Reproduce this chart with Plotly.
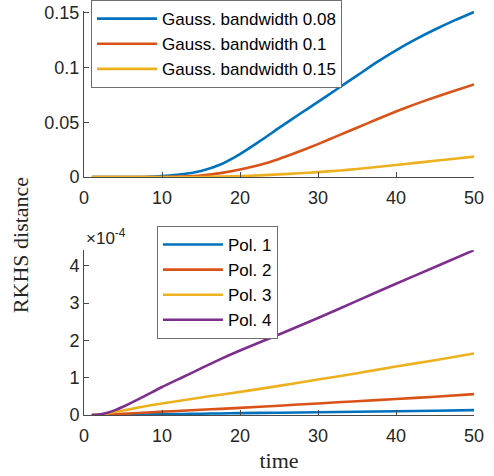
import plotly.graph_objects as go

# ---- data ----
t_gauss = [1, 5, 7.5, 10, 12.5, 15, 17.5, 20, 22.5, 25, 27.5, 30, 32.5, 35, 37.5, 40, 42.5, 45, 47.5, 50]
gauss_008 = [0, 0, 0.0001, 0.0008, 0.0025, 0.0056, 0.0115, 0.021, 0.0325, 0.0448, 0.0568, 0.0685, 0.0805, 0.0925, 0.1045, 0.1155, 0.1255, 0.1345, 0.1428, 0.1505]
gauss_010 = [0, 0, 0, 0.0001, 0.0005, 0.0013, 0.0036, 0.0069, 0.011, 0.0165, 0.023, 0.030, 0.0375, 0.045, 0.0525, 0.0598, 0.0665, 0.0728, 0.0787, 0.0844]
gauss_015 = [0, 0, 0, 0, 0, 0.0001, 0.0004, 0.0008, 0.0015, 0.0024, 0.0034, 0.0045, 0.0058, 0.0073, 0.0091, 0.0110, 0.0129, 0.0148, 0.0167, 0.0186]
gauss_names = ["Gauss. bandwidth 0.08", "Gauss. bandwidth 0.1", "Gauss. bandwidth 0.15"]

t_pol = [1, 2, 3, 4, 5, 7.5, 10, 12.5, 15, 17.5, 20, 25, 30, 35, 40, 45, 50]
# values in units of 1e-4
pol_1 = [0, 0.001, 0.002, 0.003, 0.005, 0.012, 0.02, 0.028, 0.035, 0.042, 0.05, 0.062, 0.075, 0.088, 0.1, 0.115, 0.13]
pol_2 = [0, 0.003, 0.01, 0.02, 0.03, 0.06, 0.09, 0.115, 0.14, 0.165, 0.19, 0.25, 0.31, 0.37, 0.43, 0.49, 0.56]
pol_3 = [0, 0.01, 0.04, 0.08, 0.12, 0.22, 0.31, 0.39, 0.47, 0.545, 0.62, 0.78, 0.95, 1.12, 1.30, 1.47, 1.65]
pol_4 = [0, 0.015, 0.06, 0.13, 0.22, 0.48, 0.75, 1.0, 1.25, 1.5, 1.73, 2.16, 2.6, 3.06, 3.52, 3.97, 4.42]
pol_names = ["Pol. 1", "Pol. 2", "Pol. 3", "Pol. 4"]

x_ticks = [0, 10, 20, 30, 40, 50]
top_ticks = [0, 0.05, 0.1, 0.15]
top_ticktext = ["0", "0.05", "0.1", "0.15"]
bot_ticks = [0, 1, 2, 3, 4]

colors = ["#0072BD", "#D95319", "#EDB120", "#7E2F8E"]

fig = go.Figure()
for ys, name, c in zip([gauss_008, gauss_010, gauss_015], gauss_names, colors):
    fig.add_trace(go.Scatter(x=t_gauss, y=ys, name=name, mode="lines",
                             line=dict(color=c, width=2.6, shape="spline", smoothing=0.6),
                             xaxis="x", yaxis="y", legend="legend"))
for ys, name, c in zip([pol_1, pol_2, pol_3, pol_4], pol_names, colors):
    fig.add_trace(go.Scatter(x=t_pol, y=ys, name=name, mode="lines",
                             line=dict(color=c, width=2.6, shape="spline", smoothing=0.6),
                             xaxis="x2", yaxis="y2", legend="legend2"))

axcol = "#4a4a4a"
tickfont = dict(family="Liberation Sans, Arial, sans-serif", size=18, color="#262626")
common = dict(showline=True, linecolor=axcol, linewidth=1, ticks="inside", ticklen=5,
              tickcolor=axcol, tickfont=tickfont, showgrid=False, zeroline=False,
              mirror=False)

fig.update_layout(
    width=494, height=476,
    margin=dict(l=84, r=20, t=11, b=61, autoexpand=False),
    paper_bgcolor="white", plot_bgcolor="white",
    xaxis=dict(domain=[0, 1], range=[0, 50], tickvals=x_ticks, anchor="y",
               ticklabelstandoff=4, **common),
    yaxis=dict(domain=[0.589, 1], range=[0, 0.1514], tickvals=top_ticks,
               ticktext=top_ticktext, anchor="x", **common),
    xaxis2=dict(domain=[0, 1], range=[0, 50], tickvals=x_ticks, anchor="y2",
                ticklabelstandoff=4,
                title=dict(text="time", font=dict(family="Liberation Serif, Times New Roman, serif",
                                                   size=22, color="#262626"), standoff=8),
                **common),
    yaxis2=dict(domain=[0, 0.408], range=[0, 4.42], tickvals=bot_ticks, anchor="x2", **common),
    legend=dict(x=0.018, y=1.027, xanchor="left", yanchor="top",
                bgcolor="white", bordercolor="#6e6e6e", borderwidth=1,
                font=dict(family="Liberation Sans, Arial, sans-serif", size=17, color="#000"),
                itemwidth=60, tracegroupgap=0),
    legend2=dict(x=0.187, y=0.468, xanchor="left", yanchor="top",
                 bgcolor="white", bordercolor="#6e6e6e", borderwidth=1,
                 font=dict(family="Liberation Sans, Arial, sans-serif", size=17, color="#000"),
                 itemwidth=60, tracegroupgap=0),
    showlegend=True,
    annotations=[
        dict(text="RKHS distance", xref="paper", yref="paper", x=-0.162, y=0.42,
             xanchor="center", yanchor="middle", textangle=-90, showarrow=False,
             font=dict(family="Liberation Serif, Times New Roman, serif", size=22, color="#262626")),
        dict(text="×10<sup>-4</sup>", xref="paper", yref="paper", x=0.0, y=0.408,
             xanchor="left", yanchor="bottom", showarrow=False,
             font=dict(family="Liberation Sans, Arial, sans-serif", size=17, color="#262626")),
    ],
)

fig.write_html("out.html")
